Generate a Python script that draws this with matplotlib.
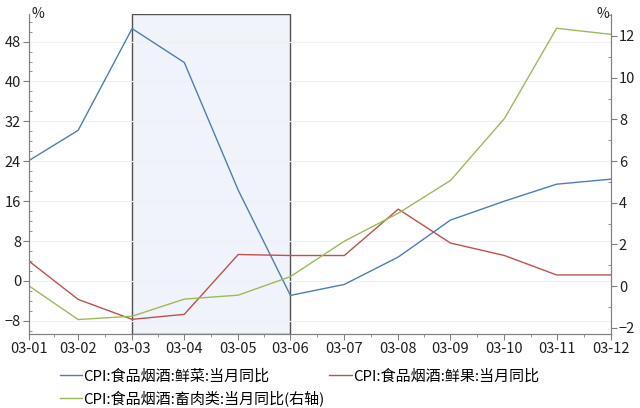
import numpy as np
import pandas as pd
import matplotlib.pyplot as plt
import matplotlib.dates as mdates
from matplotlib.ticker import MultipleLocator, FixedLocator

plt.rcParams['font.family'] = ['Noto Sans CJK SC', 'DejaVu Sans']

# month-end dates, 2003
dates = pd.date_range('2003-01-31', periods=12, freq='ME')
veg = [24.2, 30.2, 50.6, 43.8, 18.2, -2.9, -0.7, 4.8, 12.2, 16.0, 19.4, 20.4]
fruit = [3.9, -3.7, -7.7, -6.7, 5.3, 5.1, 5.1, 14.4, 7.6, 5.1, 1.2, 1.2]
meat = [0.0, -1.6, -1.44, -0.62, -0.43, 0.46, 2.16, 3.5, 5.07, 8.04, 12.37, 12.08]

names = ['CPI:食品烟酒:鲜菜:当月同比', 'CPI:食品烟酒:鲜果:当月同比',
         'CPI:食品烟酒:畜肉类:当月同比(右轴)']
colors = ['#4A7EBB', '#C0504D', '#9BBB59']

fig = plt.figure(figsize=(6.4, 4.08), dpi=100)
ax = fig.add_axes([0.046, 0.181, 0.908, 0.785])
ax2 = ax.twinx()

ax.axvspan(dates[2], dates[5], facecolor='#F0F4FA', edgecolor='#505050',
           lw=1, zorder=0)
for v in np.arange(-8, 56, 8):
    ax.axhline(v, color='#EFEFEF', lw=0.8, zorder=0.5)

l1, = ax.plot(dates, veg, color=colors[0], lw=1, label=names[0])
l2, = ax.plot(dates, fruit, color=colors[1], lw=1, label=names[1])
l3, = ax2.plot(dates, meat, color=colors[2], lw=1, label=names[2])

ax.set_xlim(dates[0], dates[-1])
ax.set_ylim(-10.67, 53.55)
ax2.set_ylim(-2.3, 13.06)
ax.set_xticks(dates)
ax.xaxis.set_major_formatter(mdates.DateFormatter('%y-%m'))
num = mdates.date2num(dates)
ax.xaxis.set_minor_locator(FixedLocator((num[:-1] + num[1:]) / 2))
ax.yaxis.set_major_locator(MultipleLocator(8))
ax.yaxis.set_minor_locator(MultipleLocator(2))
ax2.yaxis.set_major_locator(MultipleLocator(2))
ax2.yaxis.set_minor_locator(MultipleLocator(1))

for a in (ax, ax2):
    a.spines['top'].set_visible(False)
    for s in ('left', 'right', 'bottom'):
        a.spines[s].set_color('#808080')
    a.tick_params(which='major', length=4, color='#808080', labelsize=10.5,
                  pad=2, labelcolor='#202020')
    a.tick_params(which='minor', length=2.5, color='#808080')
ax.tick_params(axis='y', which='minor', direction='in')
ax2.tick_params(axis='y', which='minor', direction='in')

ax.text(0.003, 1.0, '%', transform=ax.transAxes, fontsize=10,
        ha='left', va='center', color='#202020')
ax2.text(0.997, 1.0, '%', transform=ax2.transAxes, fontsize=10,
         ha='right', va='center', color='#202020')

fig.legend([l1, l3, l2], [names[0], names[2], names[1]], ncol=2,
           loc='upper left', bbox_to_anchor=(0.093, 0.096), frameon=False,
           fontsize=10.8, handlelength=1.5, handletextpad=0.1,
           columnspacing=0.3, labelspacing=0.5, borderaxespad=0,
           borderpad=0)

fig.savefig('out.png', dpi=100)
